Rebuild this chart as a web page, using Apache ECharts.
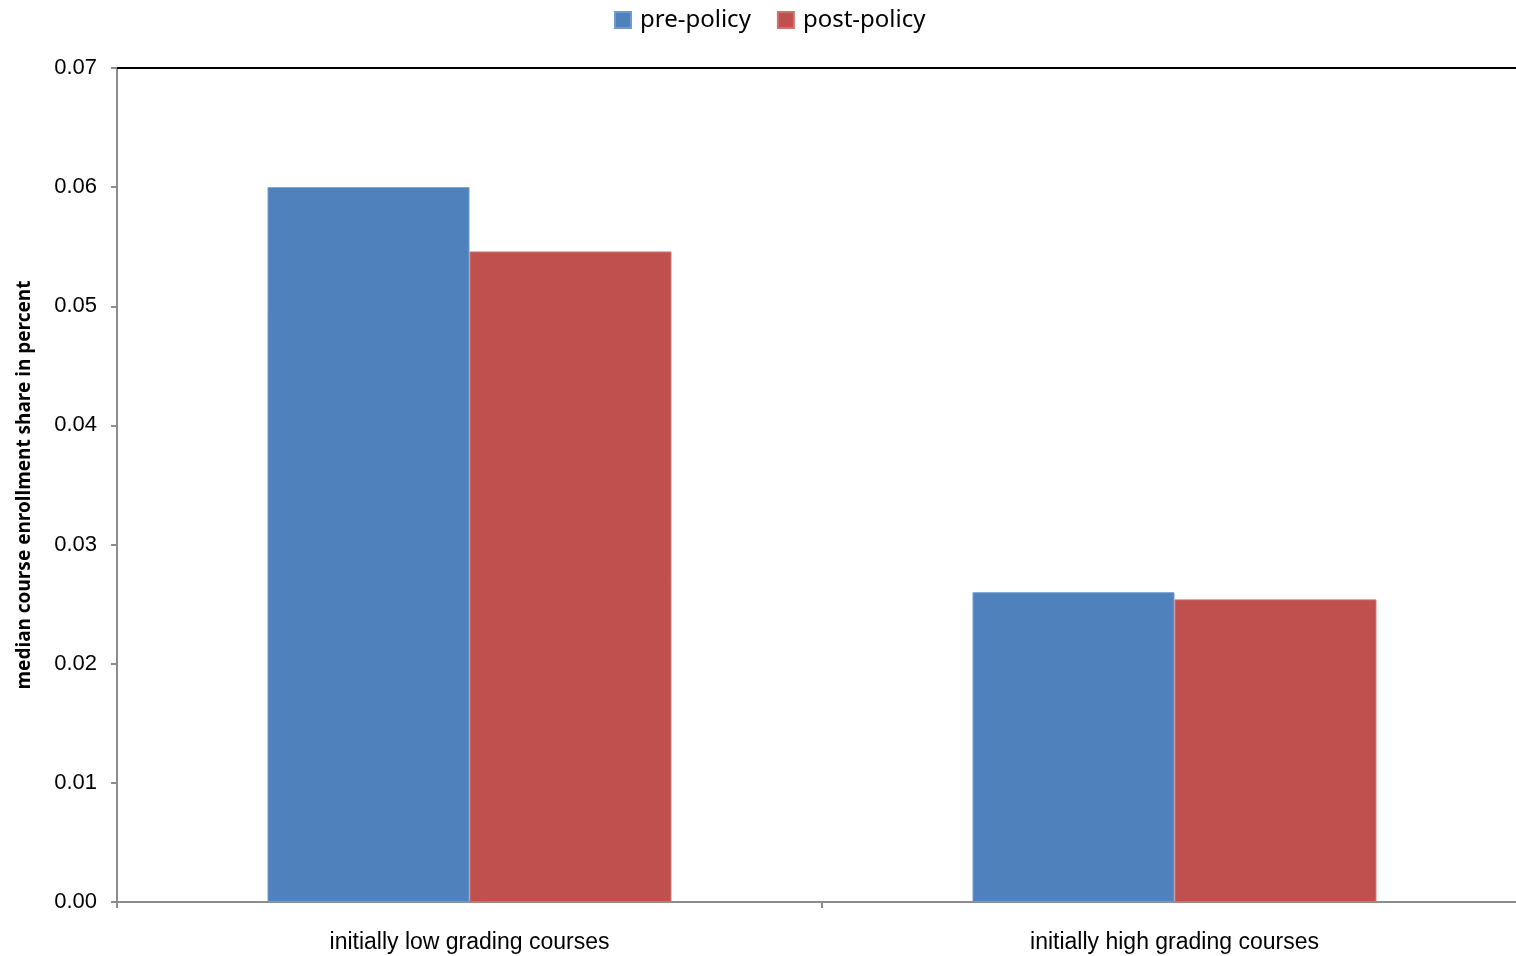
<!DOCTYPE html>
<html>
<head>
<meta charset="utf-8">
<script src="https://cdn.jsdelivr.net/npm/echarts@6/dist/echarts.min.js"></script>
<style>html,body{margin:0;padding:0;background:#fff;}#c{width:1516px;height:956px;}</style>
</head>
<body>
<div id="c"></div>
<script>
const categories = ['initially low grading courses', 'initially high grading courses'];
const prePolicy = [0.0600, 0.0260];
const postPolicy = [0.0546, 0.0254];
const yTicks = { min: 0, max: 0.07, interval: 0.01 };

const chart = echarts.init(document.getElementById('c'));
chart.setOption({
  animation: false,
  backgroundColor: '#fff',
  legend: {
    top: 3, left: 609,
    itemWidth: 16, itemHeight: 16, itemGap: 26,
    icon: 'rect',
    textStyle: { fontFamily: 'Noto Sans', fontSize: 24, color: '#000', padding: [0, 0, 0, 4] },
    data: ['pre-policy', 'post-policy']
  },
  grid: { left: 117, right: -11, top: 68, bottom: 54, outerBoundsMode: 'none' },
  xAxis: [{
    type: 'category',
    data: categories,
    axisLine: { lineStyle: { color: '#8c8c8c', width: 2 } },
    axisTick: { show: true, length: 6, lineStyle: { color: '#8c8c8c', width: 2 } },
    axisLabel: { fontFamily: 'Liberation Sans', fontSize: 23, color: '#000', margin: 29 }
  }, {
    type: 'category',
    position: 'top',
    data: categories,
    axisLine: { show: true, lineStyle: { color: '#000', width: 2 } },
    axisTick: { show: false },
    axisLabel: { show: false }
  }],
  yAxis: {
    type: 'value',
    min: yTicks.min, max: yTicks.max, interval: yTicks.interval,
    name: 'median course enrollment share in percent',
    nameLocation: 'middle',
    nameGap: 83,
    nameTextStyle: { fontFamily: 'Noto Sans', fontWeight: 'bold', fontSize: 19, color: '#000' },
    axisLine: { show: true, lineStyle: { color: '#8c8c8c', width: 2 } },
    axisTick: { show: true, length: 6, lineStyle: { color: '#8c8c8c', width: 2 } },
    splitLine: { show: false },
    axisLabel: { fontFamily: 'Liberation Sans', fontSize: 22, color: '#000', margin: 20,
      padding: [6, 0, 0, 0],
      formatter: v => v.toFixed(2) }
  },
  series: [{
    name: 'pre-policy', type: 'bar', data: prePolicy,
    barGap: '0%', barCategoryGap: '42.7%',
    itemStyle: { color: '#4F81BD', borderColor: '#6f9bd0', borderWidth: 1 }
  }, {
    name: 'post-policy', type: 'bar', data: postPolicy,
    itemStyle: { color: '#C0504D', borderColor: '#d07370', borderWidth: 1 }
  }]
});
</script>
</body>
</html>
